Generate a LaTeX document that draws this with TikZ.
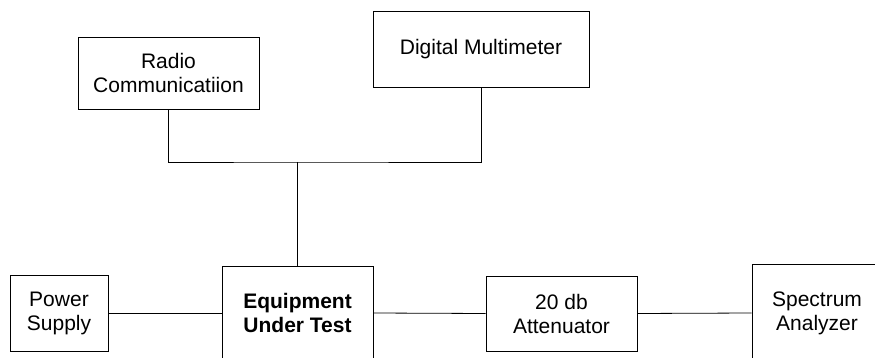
\documentclass[tikz,border=0pt]{standalone}
\usepackage{fontspec}
\setmainfont{Liberation Sans}
\begin{document}
\begin{tikzpicture}[x=1pt,y=-1pt,
  box/.style={draw=black,line width=0.8pt,align=center,inner sep=0pt,
    font=\fontsize{21}{24}\selectfont},
  wire/.style={draw=black,line width=0.8pt}]
\clip (0,0) rectangle (875,358);
\fill[white] (0,0) rectangle (875,358);
\node[box,minimum width=181pt,minimum height=72pt] (radio) at (168.5,73) {Radio\\Communicatiion};
\node[box,minimum width=216pt,minimum height=76pt] (dmm) at (481,49) {Digital Multimeter};
\node[box,minimum width=98pt,minimum height=76pt] (ps) at (59,313) {Power\\Supply};
\node[box,minimum width=151pt,minimum height=94pt,font=\fontsize{21}{24}\selectfont\bfseries] (eut) at (297.5,313) {Equipment\\Under Test};
\node[box,minimum width=151pt,minimum height=75pt] (att) at (561.5,313.5) {20 db\\Attenuator};
\node[box,minimum width=130pt,minimum height=98pt] (sa) at (817,313) {Spectrum\\Analyzer};
\coordinate (bus) at (297.5,162);
\draw[wire] (radio.south) |- (bus) -| (dmm.south);
\draw[wire] (bus) -- (eut.north);
\draw[wire] (ps.east) -- (eut.west);
\draw[wire] (eut.east) -- (att.west);
\draw[wire] (att.east) -- (sa.west);
\end{tikzpicture}
\end{document}
